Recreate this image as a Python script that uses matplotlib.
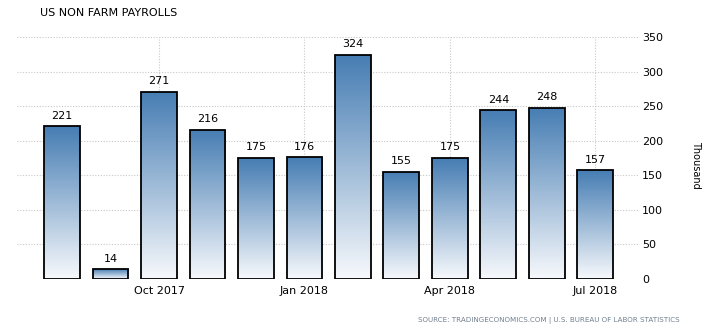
import numpy as np
import matplotlib; matplotlib.use("Agg")
import matplotlib.pyplot as plt
from matplotlib.colors import LinearSegmentedColormap

months = ["Aug 2017", "Sep 2017", "Oct 2017", "Nov 2017", "Dec 2017", "Jan 2018",
          "Feb 2018", "Mar 2018", "Apr 2018", "May 2018", "Jun 2018", "Jul 2018"]
payrolls = [221, 14, 271, 216, 175, 176, 324, 155, 175, 244, 248, 157]
tick_months = ["Oct 2017", "Jan 2018", "Apr 2018", "Jul 2018"]
yticks = [0, 50, 100, 150, 200, 250, 300, 350]

plt.rcParams["font.family"] = ["DejaVu Sans"]
W, H = 713, 330
fig = plt.figure(figsize=(W/100, H/100), dpi=100)
ax = fig.add_axes([17/W, 51/H, (638-17)/W, (279-37)/H])

cmap = LinearSegmentedColormap.from_list("tegrad", ["#f7f9fc", "#467db3"])
x = np.arange(len(months))
bars = ax.bar(x, payrolls, width=0.74, facecolor="none", edgecolor="black",
              linewidth=1.3, zorder=3)
grad = np.linspace(0, 1, 256).reshape(-1, 1)
for b, v in zip(bars, payrolls):
    x0 = b.get_x(); w = b.get_width()
    im = ax.imshow(grad, cmap=cmap, origin="lower", aspect="auto",
                   extent=[x0, x0 + w, 0, v], zorder=2)
    im.set_clip_path(b)
    ax.text(x0 + w/2, v + 8, str(v), ha="center", va="bottom", fontsize=8, zorder=4)

ax.set_xlim(-0.93, 11.88)
ax.set_ylim(0, 350)
ax.set_xticks([months.index(m) for m in tick_months])
ax.set_xticklabels(tick_months, fontsize=8)
ax.yaxis.tick_right()
ax.set_yticks(yticks)
ax.set_yticklabels([str(t) for t in yticks], fontsize=8)
ax.tick_params(axis="x", length=0, pad=5)
ax.tick_params(axis="y", length=0, pad=3)
ax.grid(True, color="#c8c8c8", linestyle=(0, (1, 1.5)), linewidth=0.8, zorder=0)
ax.set_axisbelow(True)
for s in ax.spines.values():
    s.set_visible(False)

fig.text(40/W, 1 - 13/H, "US NON FARM PAYROLLS", fontsize=8, va="center", ha="left")
fig.text(680/W, 10/H, "SOURCE: TRADINGECONOMICS.COM | U.S. BUREAU OF LABOR STATISTICS",
         fontsize=5.1, color="#6f7f8f", ha="right", va="center")
fig.text(696/W, 1 - 165/H, "Thousand", rotation=270, fontsize=7, ha="center", va="center")

fig.savefig("out.png", dpi=100)
